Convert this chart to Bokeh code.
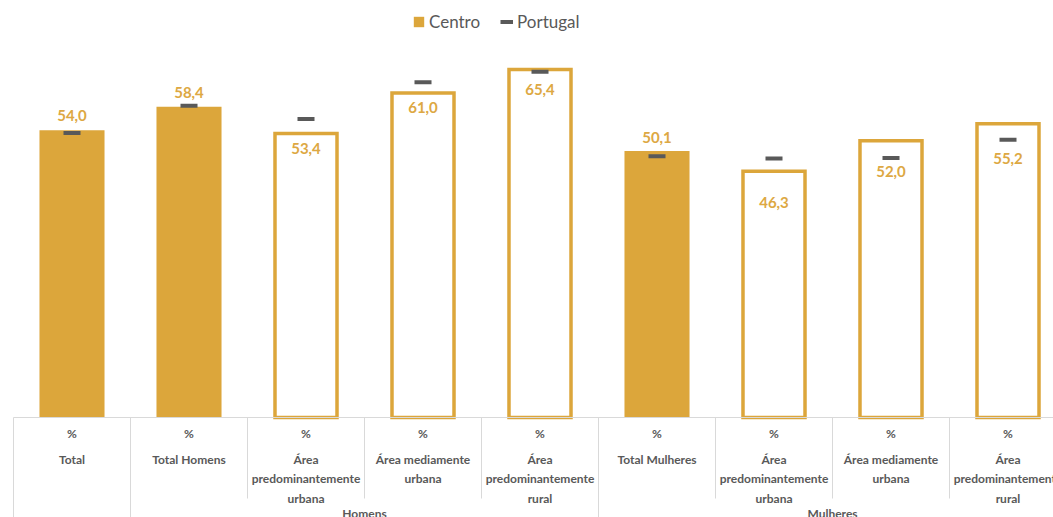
from bokeh.plotting import figure
from bokeh.models import Range1d, ColumnDataSource, Legend, LegendItem
from bokeh.core.properties import value
from bokeh.embed import file_html
from bokeh.resources import INLINE

# ---------------- data ----------------
categories = ["Total", "Total Homens", "Área\npredominantemente\nurbana",
              "Área mediamente\nurbana", "Área\npredominantemente\nrural",
              "Total Mulheres", "Área\npredominantemente\nurbana",
              "Área mediamente\nurbana", "Área\npredominantemente\nrural"]
units = ["%", "%", "%", "%", "%", "%", "%", "%", "%"]
centro = [54.0, 58.4, 53.4, 61.0, 65.4, 50.1, 46.3, 52.0, 55.2]
portugal = [53.5, 58.6, 56.1, 63.0, 65.0, 49.1, 48.7, 48.8, 52.2]
is_total = [True, True, False, False, False, True, False, False, False]
group_names = ["Homens", "Mulheres"]
group_first = [1, 5]
group_last = [4, 8]

# ---------------- styling ----------------
GOLD = "#DCA63B"
GOLD_TXT = "#DDA843"
GREY_TXT = "#595959"
DIV = "#D9D9D9"
FONT = "Lato"
PX = 5.32            # pixels per percentage point
COL = 117.0          # pixels per category column
W, H = 1053, 517
label_dy = [-15, -14, 15, 15, 20, -13, 31, 31, 35]   # screen offsets of value labels

x_start = -0.5 - 13 / COL
y_start = -100 / PX


def ypx(page_y):
    return (417 - page_y) / PX


p = figure(width=W, height=H, output_backend="svg", toolbar_location=None,
           x_range=Range1d(x_start, x_start + W / COL),
           y_range=Range1d(y_start, y_start + H / PX),
           x_axis_location=None, y_axis_location=None,
           min_border=0, min_border_left=0, min_border_right=0,
           min_border_top=0, min_border_bottom=0)
p.outline_line_color = None
p.xgrid.visible = False
p.ygrid.visible = False
p.background_fill_color = "white"
p.border_fill_color = "white"

xs = list(range(len(categories)))

filled = ColumnDataSource(dict(x=[x for x, t in zip(xs, is_total) if t],
                               top=[v for v, t in zip(centro, is_total) if t]))
hollow = ColumnDataSource(dict(x=[x for x, t in zip(xs, is_total) if not t],
                               top=[v for v, t in zip(centro, is_total) if not t]))

r_fill = p.vbar(x="x", top="top", bottom=0, width=0.556, source=filled,
                fill_color=GOLD, line_color=None)
p.vbar(x="x", top="top", bottom=0, width=0.53, source=hollow,
       fill_color="white", line_color=GOLD, line_width=3.5, line_join="miter")

# axis line
p.segment(x0=[-0.5], y0=[0], x1=[len(categories) + 0.5], y1=[0], line_color=DIV, line_width=1)

# Portugal markers
p.rect(x=xs, y=portugal, width=17, height=4, width_units="screen", height_units="screen",
       fill_color=GREY_TXT, line_color=None)
r_pt = p.line(x=[0, 0], y=[float("nan"), float("nan")], line_color=GREY_TXT, line_width=4)

# value labels
labels = ColumnDataSource(dict(x=xs, y=centro, t=[f"{v:.1f}".replace(".", ",") for v in centro],
                               dy=label_dy))
p.text(x="x", y="y", text="t", y_offset="dy", source=labels, text_align="center",
       text_baseline="middle", text_color=GOLD_TXT, text_font=value(FONT),
       text_font_style="bold", text_font_size="15px")

# category table
p.text(x=xs, y=[ypx(433)] * len(xs), text=units, text_align="center", text_baseline="middle",
       text_color=GREY_TXT, text_font=value(FONT), text_font_style="bold", text_font_size="12px")
p.text(x=xs, y=[ypx(451)] * len(xs), text=categories, text_align="center", text_baseline="top",
       text_color=GREY_TXT, text_font=value(FONT), text_font_style="bold", text_font_size="12px",
       text_line_height=1.33)
gx = [(a + b) / 2 for a, b in zip(group_first, group_last)]
p.text(x=gx, y=[ypx(513)] * len(gx), text=group_names, text_align="center", text_baseline="middle",
       text_color=GREY_TXT, text_font=value(FONT), text_font_style="bold", text_font_size="12px")

# dividers
long_div = [0] + group_first
short_div = [i for i in range(len(categories) + 1) if i not in long_div]
p.segment(x0=[i - 0.5 for i in long_div], y0=[0] * len(long_div),
          x1=[i - 0.5 for i in long_div], y1=[ypx(540)] * len(long_div),
          line_color=DIV, line_width=1)
p.segment(x0=[i - 0.5 for i in short_div], y0=[0] * len(short_div),
          x1=[i - 0.5 for i in short_div], y1=[ypx(498)] * len(short_div),
          line_color=DIV, line_width=1)

legend = Legend(items=[LegendItem(label="Centro", renderers=[r_fill]),
                       LegendItem(label="Portugal", renderers=[r_pt])],
                orientation="horizontal", location=(412, 485),
                glyph_width=13, glyph_height=13, label_standoff=4, spacing=20,
                padding=0, margin=0, border_line_color=None, background_fill_alpha=0,
                label_text_font=FONT, label_text_font_size="17px", label_text_color=GREY_TXT)
p.add_layout(legend)

open("out.html", "w").write(file_html(p, INLINE))
